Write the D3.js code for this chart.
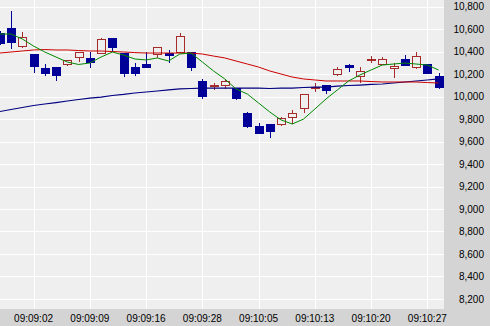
<!DOCTYPE html>
<html>
<head>
<meta charset="utf-8">
<script src="https://cdn.jsdelivr.net/npm/d3@7"></script>
<style>
  body { margin: 0; background: #d4d4d4; }
  svg { display: block; }
  text { font-family: "Liberation Sans", Arial, sans-serif; font-size: 10px; fill: #000; }
</style>
</head>
<body>
<div id="chart"></div>
<script>
var svgWidth = 490;
var svgHeight = 326;

// plot area (right and bottom are the gray axis panels)
var margin = { top: 0, right: 46, bottom: 17, left: 0 };
var width = svgWidth - margin.left - margin.right;
var height = svgHeight - margin.top - margin.bottom;

// candle data
var opens  = [10567, 10612, 10451, 10380, 10256, 10264, 10291, 10353, 10345, 10389,
              10523, 10389, 10264, 10291, 10380, 10389, 10398, 10398, 10140, 10091,
              10104, 10077, 9855, 9739, 9757, 9757, 9819, 9899, 10082, 10104,
              10202, 10282, 10184, 10332, 10291, 10256, 10336, 10264, 10291, 10184];
var highs  = [10585, 10763, 10576, 10380, 10291, 10264, 10327, 10398, 10398, 10523,
              10523, 10389, 10300, 10398, 10442, 10416, 10567, 10398, 10158, 10122,
              10158, 10077, 9864, 9766, 9757, 9819, 9882, 10024, 10122, 10104,
              10264, 10291, 10264, 10362, 10353, 10300, 10371, 10398, 10291, 10211];
var lows   = [10460, 10425, 10434, 10211, 10184, 10140, 10273, 10309, 10256, 10389,
              10398, 10175, 10184, 10256, 10345, 10300, 10398, 10229, 9980, 10060,
              10069, 9971, 9721, 9668, 9632, 9739, 9757, 9855, 10042, 10024,
              10184, 10220, 10122, 10300, 10291, 10166, 10273, 10247, 10202, 10069];
var closes = [10478, 10487, 10531, 10273, 10211, 10193, 10327, 10398, 10309, 10514,
              10442, 10211, 10211, 10264, 10442, 10371, 10540, 10264, 10006, 10100,
              10140, 9988, 9739, 9677, 9695, 9810, 9855, 10024, 10090, 10060,
              10247, 10264, 10229, 10340, 10336, 10273, 10282, 10362, 10211, 10086];

// moving average lines
var maShort = [10558, 10558, 10514, 10451, 10398, 10353, 10309, 10287, 10300, 10353,
               10398, 10371, 10336, 10327, 10345, 10318, 10380, 10389, 10309, 10229,
               10158, 10069, 10024, 9944, 9864, 9793, 9757, 9801, 9890, 9980,
               10060, 10140, 10193, 10238, 10282, 10291, 10300, 10291, 10282, 10238];
var maMid   = [10389, 10398, 10407, 10416, 10420, 10416, 10416, 10411, 10407, 10407,
               10402, 10398, 10393, 10389, 10389, 10389, 10389, 10389, 10380, 10362,
               10345, 10318, 10291, 10264, 10229, 10202, 10175, 10158, 10149, 10140,
               10140, 10140, 10140, 10135, 10131, 10131, 10131, 10131, 10126, 10122];
var maLong  = [9868, 9886, 9904, 9922, 9935, 9948, 9962, 9975, 9988, 9997,
               10011, 10020, 10033, 10042, 10051, 10060, 10069, 10073, 10077, 10077,
               10077, 10077, 10077, 10077, 10073, 10077, 10077, 10082, 10086, 10086,
               10095, 10100, 10104, 10109, 10113, 10122, 10131, 10140, 10149, 10158];

// time labels every fifth candle
var tickIndex = [3, 8, 13, 18, 23, 28, 33, 38];
var tickLabels = ["09:09:02", "09:09:09", "09:09:16", "09:09:28",
                  "09:10:05", "09:10:13", "09:10:20", "09:10:27"];
var yTicks = d3.range(8200, 10801, 200);

var svg = d3.select("#chart")
    .append("svg")
    .attr("width", svgWidth)
    .attr("height", svgHeight);

svg.append("rect")
    .attr("width", svgWidth)
    .attr("height", svgHeight)
    .attr("fill", "#d4d4d4");

var chartGroup = svg.append("g")
    .attr("transform", `translate(${margin.left}, ${margin.top})`);

chartGroup.append("clipPath")
    .attr("id", "plotclip")
    .append("rect")
    .attr("width", width)
    .attr("height", height);

chartGroup.append("rect")
    .attr("width", width)
    .attr("height", height)
    .attr("fill", "#efefef");

var xScale = d3.scaleLinear().domain([0, 39]).range([-0.2, 438.55]);
var yScale = d3.scaleLinear().domain([8110, 10861]).range([height, 0]);

// grid lines
chartGroup.append("g")
    .selectAll("line.h")
    .data(yTicks)
    .enter()
    .append("line")
    .attr("x1", 0)
    .attr("x2", width)
    .attr("y1", d => Math.round(yScale(d)) + 0.5)
    .attr("y2", d => Math.round(yScale(d)) + 0.5)
    .attr("stroke", "#fff");

chartGroup.append("g")
    .selectAll("line.v")
    .data(tickIndex)
    .enter()
    .append("line")
    .attr("x1", d => Math.round(xScale(d)) + 0.5)
    .attr("x2", d => Math.round(xScale(d)) + 0.5)
    .attr("y1", 0)
    .attr("y2", height)
    .attr("stroke", "#fff");

var plot = chartGroup.append("g").attr("clip-path", "url(#plotclip)");

var candles = d3.range(opens.length).map(function (i) {
    return { i: i, o: opens[i], h: highs[i], l: lows[i], c: closes[i] };
});

var up = "#a52a2a";
var down = "#000099";
var bodyW = 9;

// wicks
plot.append("g")
    .selectAll("line")
    .data(candles)
    .enter()
    .append("line")
    .attr("x1", d => Math.round(xScale(d.i)) + 0.5)
    .attr("x2", d => Math.round(xScale(d.i)) + 0.5)
    .attr("y1", d => yScale(d.h))
    .attr("y2", d => yScale(d.l))
    .attr("stroke", d => d.c >= d.o ? up : down);

// bodies
plot.append("g")
    .selectAll("rect")
    .data(candles)
    .enter()
    .append("rect")
    .attr("x", d => Math.round(xScale(d.i)) - 4 + 0.5)
    .attr("y", d => Math.round(yScale(Math.max(d.o, d.c))) + 0.5)
    .attr("width", bodyW - 1)
    .attr("height", d => Math.max(1, Math.round(Math.abs(yScale(d.o) - yScale(d.c)))))
    .attr("fill", d => d.c >= d.o ? "#efefef" : down)
    .attr("stroke", d => d.c >= d.o ? up : down);

var line = d3.line()
    .x((d, i) => xScale(i))
    .y(d => yScale(d));

plot.append("path")
    .datum(maLong)
    .attr("d", line)
    .attr("fill", "none")
    .attr("stroke", "#000080")
    .attr("stroke-width", 1.2);

plot.append("path")
    .datum(maMid)
    .attr("d", line)
    .attr("fill", "none")
    .attr("stroke", "#cc0000")
    .attr("stroke-width", 1);

plot.append("path")
    .datum(maShort)
    .attr("d", line)
    .attr("fill", "none")
    .attr("stroke", "#008800")
    .attr("stroke-width", 1);

// right axis labels
svg.append("g")
    .selectAll("text")
    .data(yTicks)
    .enter()
    .append("text")
    .attr("x", 484)
    .attr("y", d => yScale(d) + margin.top + 1)
    .attr("text-anchor", "end")
    .attr("dominant-baseline", "middle")
    .text(d => d3.format(",")(d));

// bottom axis labels
svg.append("g")
    .selectAll("text")
    .data(tickIndex)
    .enter()
    .append("text")
    .attr("x", d => xScale(d))
    .attr("y", svgHeight - 4)
    .attr("text-anchor", "middle")
    .text((d, i) => tickLabels[i]);
</script>
</body>
</html>
